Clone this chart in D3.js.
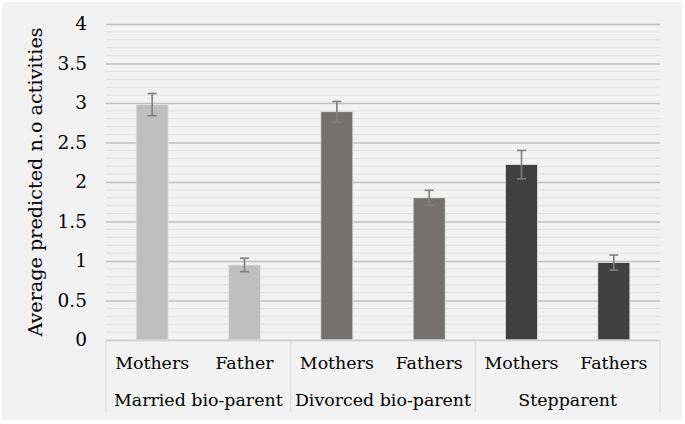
<!DOCTYPE html>
<html><head><meta charset="utf-8">
<script src="https://cdn.jsdelivr.net/npm/d3@7"></script>
<style>body{margin:0;background:#fff}svg{display:block}</style>
</head><body><svg id="c" width="685" height="424"></svg>
<script>
const groups = ["Married bio-parent", "Divorced bio-parent", "Stepparent"];
const roles = [["Mothers","Father"],["Mothers","Fathers"],["Mothers","Fathers"]];
const values = [[2.98, 0.95],[2.89, 1.80],[2.22, 0.98]];
const errors = [[0.14, 0.085],[0.13, 0.095],[0.18, 0.095]];
const colors = ["#bfbfbf", "#767171", "#404040"];
const yTicks = [0, 0.5, 1, 1.5, 2, 2.5, 3, 3.5, 4];
const yTitle = "Average predicted n.o activities";

(function(){
const font = "DejaVu Serif";
const svg = d3.select("#c");
svg.append("rect").attr("x",2).attr("y",2).attr("width",680).attr("height",418).attr("fill","#f2f2f2");

const pl = 106, pr = 660, pt = 24, pb = 340;
const y = d3.scaleLinear().domain([0,4]).range([pb, pt]);
const rows = [];
groups.forEach((g,gi)=>roles[gi].forEach((r,ri)=>rows.push({g,gi,r,ri,v:values[gi][ri],e:errors[gi][ri],key:gi+"-"+ri})));
const x = d3.scaleBand().domain(rows.map(d=>d.key)).range([pl,pr]).paddingInner(0.653).paddingOuter(0.3265);
const gx = d3.scaleBand().domain(groups).range([pl,pr]);

const minor = d3.range(1,40).filter(i=>i%5!==0).map(i=>i/10);
svg.append("g").selectAll("line").data(minor).join("line")
  .attr("x1",pl).attr("x2",pr).attr("y1",d=>y(d)).attr("y2",d=>y(d))
  .attr("stroke","#e0e0e0").attr("stroke-width",1);
const yAxis = svg.append("g").attr("transform",`translate(${pl},0)`)
  .call(d3.axisLeft(y).tickValues(yTicks).tickSize(-(pr-pl)).tickPadding(19).tickFormat(d3.format("")));
yAxis.select(".domain").remove();
yAxis.selectAll(".tick line").attr("stroke","#bfbfbf").attr("stroke-width",1.5);
yAxis.selectAll(".tick text").attr("font-family",font).attr("font-size",18.5).attr("fill","#000");

svg.append("g").selectAll("rect").data(rows).join("rect")
  .attr("x",d=>x(d.key)).attr("width",x.bandwidth())
  .attr("y",d=>y(d.v)).attr("height",d=>y(0)-y(d.v))
  .attr("fill",d=>colors[d.gi]).attr("stroke","#e8e8e8").attr("stroke-width",0.75);

const eb = svg.append("g").attr("stroke","#7f7f7f").attr("stroke-width",1.6).attr("fill","none");
rows.forEach(d=>{
  const cx = x(d.key)+x.bandwidth()/2;
  eb.append("line").attr("x1",cx).attr("x2",cx).attr("y1",y(d.v+d.e)).attr("y2",y(d.v-d.e));
  eb.append("line").attr("x1",cx-4.5).attr("x2",cx+4.5).attr("y1",y(d.v+d.e)).attr("y2",y(d.v+d.e));
  eb.append("line").attr("x1",cx-4.5).attr("x2",cx+4.5).attr("y1",y(d.v-d.e)).attr("y2",y(d.v-d.e));
});

const ax = svg.append("g").attr("stroke","#d9d9d9").attr("stroke-width",1.2);
ax.append("line").attr("x1",pl).attr("x2",pr).attr("y1",pb).attr("y2",pb);
[...groups.map(g=>gx(g)), pr].forEach(px=>{
  ax.append("line").attr("x1",px).attr("x2",px).attr("y1",pb).attr("y2",412);
});
svg.append("g").selectAll("text").data(rows).join("text")
  .attr("x",d=>x(d.key)+x.bandwidth()/2).attr("y",369).attr("text-anchor","middle")
  .attr("font-family",font).attr("font-size",17.4).attr("fill","#000").text(d=>d.r);
svg.append("g").selectAll("text").data(groups).join("text")
  .attr("x",d=>gx(d)+gx.bandwidth()/2).attr("y",406).attr("text-anchor","middle")
  .attr("font-family",font).attr("font-size",17.4).attr("fill","#000").text(d=>d);

svg.append("text").attr("transform",`translate(42,182) rotate(-90)`).attr("text-anchor","middle")
  .attr("font-family",font).attr("font-size",19.2).attr("fill","#000").text(yTitle);
})();
</script></body></html>
